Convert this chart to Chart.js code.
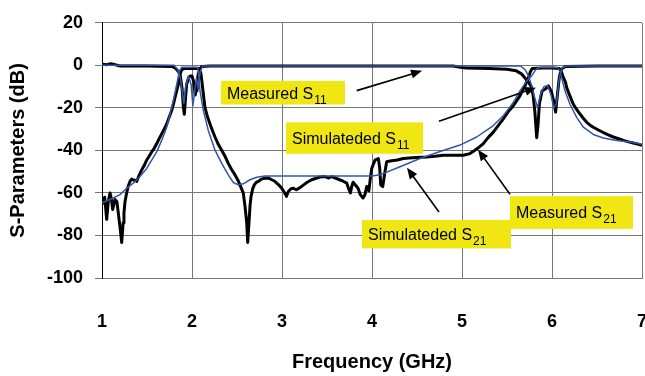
<!DOCTYPE html>
<html>
<head>
<meta charset="utf-8">
<script src="https://cdn.jsdelivr.net/npm/chart.js@4/dist/chart.umd.min.js"></script>
<style>
  html, body { margin: 0; padding: 0; background: #fff; }
  #wrap { width: 645px; height: 376px; }
</style>
</head>
<body>
<div id="wrap"><canvas id="chart" width="645" height="376"></canvas></div>
<script>
// ---------- data ----------
const xTicks = [1, 2, 3, 4, 5, 6, 7];
const yTicks = [-100, -80, -60, -40, -20, 0, 20];

// Measured S11
const measS11F = [1.0, 1.05, 1.1, 1.2, 1.5, 1.78, 1.82, 1.85, 1.87, 1.89, 1.905, 1.915, 1.925, 1.94, 1.96, 1.98, 2.0, 2.02, 2.035, 2.045, 2.055, 2.07, 2.09, 2.11, 2.2, 3.0, 3.5, 4.0, 4.5, 4.9, 5.0, 5.05, 5.3, 5.5, 5.6, 5.66, 5.7, 5.74, 5.77, 5.79, 5.81, 5.83, 5.845, 5.86, 5.89, 5.93, 5.96, 5.99, 6.02, 6.04, 6.06, 6.08, 6.1, 6.15, 6.5, 7.0];
const measS11 = [0.5, 0.3, 0.8, -0.3, -0.3, -0.5, -1.5, -3, -5, -11, -20, -23, -17, -9, -6, -5, -5, -8, -14, -12, -8, -4, -1.5, -0.5, -0.3, -0.3, -0.3, -0.3, -0.3, -0.3, -1, -1.3, -1.5, -1.8, -2.5, -4, -6, -8, -10, -14, -22, -34, -28, -18, -12, -11, -9.7, -12, -17, -22, -14, -6, -2, -0.5, -0.3, -0.3];

// Simulated S11
const simS11F = [1.0, 1.8, 1.84, 1.87, 1.89, 1.91, 1.93, 1.96, 1.99, 2.01, 2.03, 2.05, 2.07, 2.09, 2.12, 5.65, 5.7, 5.74, 5.77, 5.8, 5.84, 5.87, 5.91, 5.95, 5.99, 6.02, 6.05, 6.08, 6.11, 6.15, 7.0];
const simS11 = [0, 0, -2, -6, -12, -18, -10, -5, -9, -19, -12, -6, -11, -3, -0.3, -0.3, -2, -5, -9, -14, -20, -14, -10, -9.5, -14, -20, -18, -6, -1.5, -0.3, -0.3];

// Measured S21
const measS21F = [1.0, 1.015, 1.03, 1.052, 1.07, 1.089, 1.105, 1.119, 1.144, 1.165, 1.181, 1.2, 1.219, 1.235, 1.244, 1.256, 1.267, 1.29, 1.311, 1.33, 1.348, 1.37, 1.385, 1.41, 1.441, 1.47, 1.496, 1.52, 1.552, 1.58, 1.607, 1.635, 1.663, 1.69, 1.719, 1.745, 1.774, 1.795, 1.811, 1.83, 1.848, 1.867, 1.885, 1.92, 2.0, 2.08, 2.1, 2.114, 2.13, 2.144, 2.17, 2.2, 2.23, 2.256, 2.29, 2.33, 2.37, 2.403, 2.44, 2.478, 2.51, 2.533, 2.57, 2.589, 2.608, 2.619, 2.633, 2.645, 2.656, 2.675, 2.692, 2.715, 2.737, 2.77, 2.811, 2.85, 2.886, 2.92, 2.941, 2.97, 2.997, 3.03, 3.05, 3.07, 3.1, 3.126, 3.16, 3.2, 3.24, 3.28, 3.33, 3.38, 3.42, 3.48, 3.52, 3.55, 3.6, 3.64, 3.68, 3.72, 3.74, 3.76, 3.775, 3.79, 3.82, 3.845, 3.87, 3.9, 3.92, 3.941, 3.965, 3.985, 3.997, 4.02, 4.033, 4.07, 4.085, 4.097, 4.119, 4.144, 4.163, 4.2, 4.28, 4.348, 4.45, 4.55, 4.608, 4.7, 4.792, 4.9, 5.014, 5.089, 5.144, 5.19, 5.237, 5.29, 5.348, 5.4, 5.459, 5.51, 5.57, 5.61, 5.644, 5.67, 5.7, 5.72, 5.737, 5.76, 5.78, 5.9, 6.0, 6.08, 6.1, 6.12, 6.15, 6.163, 6.2, 6.237, 6.27, 6.311, 6.35, 6.386, 6.42, 6.459, 6.52, 6.57, 6.62, 6.681, 6.74, 6.792, 6.85, 6.903, 6.95, 7.0];
const measS21 = [-64, -64.7, -62, -72.4, -64, -60, -63, -67.8, -63.1, -64, -69.4, -76, -83.3, -74, -69.4, -64, -61.6, -57, -54.6, -53.5, -53.9, -54, -54.6, -52, -49.2, -47, -44.6, -43, -40.7, -39, -36.9, -34.5, -32.2, -30, -27.6, -24.5, -21.3, -18, -15.2, -12, -9, -4.3, -2, -1.5, -1.5, -1.5, -4, -9, -15, -19.8, -24, -27.6, -31, -33.7, -37, -39.9, -43, -46.1, -49, -51.5, -54, -56.2, -60.1, -66.3, -74, -83.3, -74, -66, -61.6, -58, -56.2, -55, -54.6, -53.5, -53.1, -53, -53.8, -54.5, -55.4, -56.5, -57.8, -60, -61.6, -59.3, -58, -57.8, -58.5, -57.5, -56.2, -55, -53.8, -53.1, -52.5, -52.3, -53, -52.3, -53.1, -53.8, -54.5, -55.4, -58, -60, -57, -55, -56.5, -57.8, -60.8, -62.4, -61, -57, -59, -52, -48.5, -46, -44.6, -43.8, -48, -56.2, -57, -50, -45.3, -45, -44.5, -43.8, -43.5, -43.2, -43.1, -42.8, -42.3, -42.3, -42.3, -41.5, -39.9, -38.5, -36.8, -34, -31.4, -28.5, -25.2, -22, -19, -16.5, -14.4, -12, -9.7, -7.4, -5.9, -3, -1.5, -1.2, -1.2, -1.5, -2.5, -5, -8, -10.5, -14.5, -18.3, -20.5, -22.9, -25, -26.8, -28, -29.1, -30.5, -31.6, -32.6, -33.7, -34.5, -35.3, -36, -36.5, -37, -37.6];

// Simulated S21
const simS21F = [1.0, 1.089, 1.2, 1.274, 1.348, 1.422, 1.497, 1.552, 1.608, 1.663, 1.719, 1.756, 1.792, 1.83, 1.859, 1.886, 2.06, 2.07, 2.089, 2.126, 2.181, 2.256, 2.33, 2.403, 2.459, 2.514, 2.57, 2.644, 2.719, 2.811, 3.5, 4.0, 4.089, 4.311, 4.533, 4.756, 4.978, 5.163, 5.348, 5.459, 5.57, 5.644, 5.719, 5.774, 5.82, 5.86, 6.06, 6.09, 6.108, 6.144, 6.2, 6.274, 6.348, 6.459, 6.57, 6.719, 6.867, 6.997];
const simS21 = [-64.7, -63.1, -60.8, -57.8, -55.4, -52.3, -48.5, -44.6, -40.7, -35.3, -29.1, -22.9, -16.7, -9, -2.8, -0.9, -0.9, -2.8, -12, -21.3, -30.6, -39.9, -46.1, -51.5, -55.1, -56.2, -55.7, -53.8, -52.6, -52, -52, -52, -51.5, -47.7, -43.8, -40.5, -37.5, -33.7, -28.3, -23.7, -17.5, -12, -7.4, -5, -2, -1, -1, -3, -5.9, -12, -18.3, -24.5, -29.1, -32.5, -34.2, -35.3, -36, -37.1];

// annotation labels (data units): box [x1, yTop, x2, yBottom], arrow [fromX, fromY, toX, toY]
const noteText = ['Measured S', 'Simulateded S', 'Measured S', 'Simulateded S'];
const noteSub = ['11', '11', '21', '21'];
const noteBox = [[2.322, -7.3, 3.7, -18.4], [3.044, -26.8, 4.567, -41.6], [5.533, -61.5, 6.9, -76.9], [3.889, -72.7, 5.544, -86.1]];
const noteArrow = [[3.83, -11.9, 4.556, -2.6], [4.744, -26.3, 5.822, -10.5], [5.533, -60.6, 5.178, -39.7], [4.744, -69, 4.389, -48.2]];

const pts = (xs, ys) => xs.map((x, i) => ({ x, y: ys[i] }));

const BLACK = '#000000';
const BLUE = '#3355aa';
const GRID = '#777777';
const FONT = '"Liberation Sans", Arial, sans-serif';

// ---------- annotation plugin ----------
const notesPlugin = {
  id: 'notes',
  afterDatasetsDraw(chart) {
    const ctx = chart.ctx;
    const xs = chart.scales.x, ys = chart.scales.y;
    ctx.save();
    noteArrow.forEach(a => {
      const x1 = xs.getPixelForValue(a[0]), y1 = ys.getPixelForValue(a[1]);
      const x2 = xs.getPixelForValue(a[2]), y2 = ys.getPixelForValue(a[3]);
      const ang = Math.atan2(y2 - y1, x2 - x1);
      const hl = 11, hw = 4.5;
      ctx.strokeStyle = BLACK;
      ctx.lineWidth = 1.6;
      ctx.beginPath();
      ctx.moveTo(x1, y1);
      ctx.lineTo(x2 - Math.cos(ang) * hl * 0.8, y2 - Math.sin(ang) * hl * 0.8);
      ctx.stroke();
      ctx.fillStyle = BLACK;
      ctx.beginPath();
      ctx.moveTo(x2, y2);
      ctx.lineTo(x2 - Math.cos(ang) * hl - Math.sin(ang) * hw, y2 - Math.sin(ang) * hl + Math.cos(ang) * hw);
      ctx.lineTo(x2 - Math.cos(ang) * hl + Math.sin(ang) * hw, y2 - Math.sin(ang) * hl - Math.cos(ang) * hw);
      ctx.closePath();
      ctx.fill();
    });
    noteBox.forEach((b, i) => {
      const l = xs.getPixelForValue(b[0]), t = ys.getPixelForValue(b[1]);
      const r = xs.getPixelForValue(b[2]), btm = ys.getPixelForValue(b[3]);
      ctx.fillStyle = '#f0e614';
      ctx.fillRect(l, t, r - l, btm - t);
      const base = (t + btm) / 2 + 6;
      ctx.fillStyle = BLACK;
      ctx.textBaseline = 'alphabetic';
      ctx.textAlign = 'left';
      ctx.font = '16px ' + FONT;
      ctx.fillText(noteText[i], l + 6, base);
      const w = ctx.measureText(noteText[i]).width;
      ctx.font = '12px ' + FONT;
      ctx.fillText(noteSub[i], l + 6 + w + 1, base + 5);
    });
    ctx.restore();
  }
};

// ---------- chart ----------
new Chart(document.getElementById('chart'), {
  type: 'line',
  data: {
    datasets: [
      { label: 'Simulated S11', data: pts(simS11F, simS11), borderColor: BLUE, borderWidth: 1.5 },
      { label: 'Simulated S21', data: pts(simS21F, simS21), borderColor: BLUE, borderWidth: 1.5 },
      { label: 'Measured S11', data: pts(measS11F, measS11), borderColor: BLACK, borderWidth: 3 },
      { label: 'Measured S21', data: pts(measS21F, measS21), borderColor: BLACK, borderWidth: 3 }
    ]
  },
  options: {
    responsive: false,
    animation: false,
    layout: { padding: { top: 19, right: 3, left: 0, bottom: 0 } },
    elements: { point: { radius: 0 }, line: { tension: 0, fill: false, borderJoinStyle: 'round' } },
    plugins: { legend: { display: false }, tooltip: { enabled: false } },
    scales: {
      x: {
        type: 'linear', min: 1, max: 7,
        afterFit(s) { s.height = 98; s.paddingLeft = 0; s.paddingRight = 0; },
        afterBuildTicks(s) { s.ticks = xTicks.map(v => ({ value: v })); },
        ticks: { padding: 33, color: BLACK, font: { family: FONT, size: 18, weight: 'bold' } },
        grid: { color: GRID, drawTicks: false },
        border: { color: GRID },
        title: { display: true, text: 'Frequency (GHz)', color: BLACK, font: { family: FONT, size: 20, weight: 'bold' }, padding: { top: 0, bottom: 2 } }
      },
      y: {
        min: -100, max: 20,
        afterFit(s) { s.width = 102; },
        afterBuildTicks(s) { s.ticks = yTicks.map(v => ({ value: v })); },
        ticks: { padding: 12, color: BLACK, font: { family: FONT, size: 18, weight: 'bold' } },
        grid: { color: GRID, tickLength: 7 },
        border: { color: BLACK },
        title: { display: true, text: 'S-Parameters (dB)', color: BLACK, font: { family: FONT, size: 20, weight: 'bold' }, padding: { top: 6, bottom: 0 } }
      }
    }
  },
  plugins: [notesPlugin]
});
</script>
</body>
</html>
